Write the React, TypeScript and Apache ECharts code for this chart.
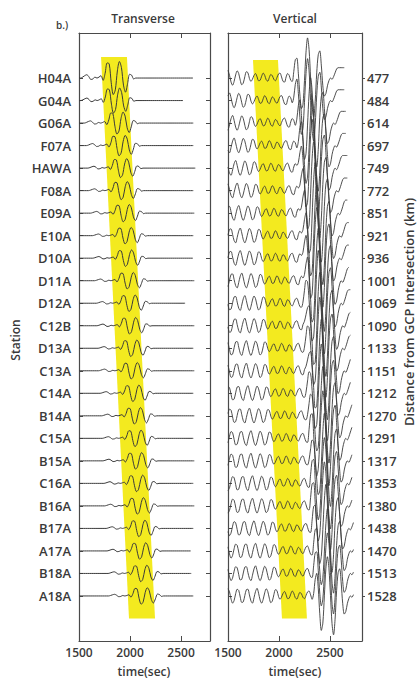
import React, { useEffect, useRef } from "react";
import * as echarts from "echarts";

// ---- Data ----
const stations = [
  "H04A", "G04A", "G06A", "F07A", "HAWA", "F08A", "E09A", "E10A", "D10A", "D11A", "D12A", "C12B",
  "D13A", "C13A", "C14A", "B14A", "C15A", "B15A", "C16A", "B16A", "B17A", "A17A", "B18A", "A18A",
];
const distancesKm = [
  477, 484, 614, 697, 749, 772, 851, 921, 936, 1001, 1069, 1090,
  1133, 1151, 1212, 1270, 1291, 1317, 1353, 1380, 1438, 1470, 1513, 1528,
];
// Love-wave onset per station (sec)
const loveOnset = [
  1716, 1718, 1752, 1773, 1787, 1793, 1813, 1831, 1835, 1852, 1870, 1875,
  1887, 1891, 1907, 1922, 1928, 1934, 1944, 1951, 1966, 1974, 1985, 1989,
];
const transverseAmp = [
  2.1, 1.6, 1.4, 1.3, 1.2, 1.15, 1.1, 1.05, 1.05, 1.05, 1.05, 1.05,
  1.05, 1.05, 1.05, 1.05, 1.05, 1.05, 1.05, 1.05, 1.05, 1.05, 1.05, 1.05,
];
const transverseEnd = [
  2620, 2520, 2620, 2620, 2640, 2620, 2630, 2620, 2620, 2630, 2540, 2630,
  2620, 2630, 2620, 2630, 2620, 2630, 2620, 2630, 2620, 2600, 2600, 2620,
];
// transverse wavelet, 20 s samples, index 10 = onset (rows, + = up)
const transverseWavelet = [
  0, 0.02, 0.05, 0.07, 0.03, -0.03, -0.02, 0.02, 0.0, 0.02, 0.05, -0.05, 0.1, 0.32,
  0.3, -0.1, -0.35, -0.25, 0.15, 0.35, 0.22, -0.15, -0.3, -0.12, 0.08, 0.06, -0.02, 0,
];
// vertical background wiggles, 15 s samples, index 0 = onset - 600 s
const verticalNoise = [
  0.10, 0.30, 0.22, -0.12, -0.30, -0.15, 0.15, 0.32, 0.18, -0.14,
  -0.32, -0.20, 0.10, 0.30, 0.25, -0.05, -0.29, -0.26, 0.02, 0.28,
  0.30, 0.05, -0.22, -0.32, -0.08, 0.20, 0.34, 0.12, -0.18, -0.32,
  -0.15, 0.14, 0.32, 0.20, -0.10, -0.30, -0.22, 0.06, 0.28, 0.24,
  -0.02, -0.15, -0.05, 0.12, 0.20, 0.05, -0.12, -0.10, 0.08, 0.22,
  0.12, -0.08, -0.14, 0.02, 0.16, 0.10, -0.06, -0.12, 0.02, 0.18,
  0.22, 0.05, -0.15, -0.18, 0.05, 0.20, 0.12, -0.10, -0.15, 0.0,
  0.12, 0.08, -0.04, -0.06, 0.02, 0.04, 0.0, 0.0, 0.0, 0.0,
];
// Rayleigh arrival per station (sec)
const rayleighArrival = [
  2130, 2131, 2156, 2172, 2182, 2186, 2201, 2214, 2217, 2230, 2242, 2246,
  2255, 2258, 2270, 2281, 2285, 2290, 2296, 2302, 2313, 2319, 2327, 2330,
];
const rayleighAmp = [
  1.15, 1.2, 1.3, 1.35, 1.4, 1.4, 1.45, 1.45, 1.45, 1.5, 1.5, 1.5,
  1.45, 1.45, 1.4, 1.4, 1.4, 1.35, 1.35, 1.3, 1.3, 1.25, 1.2, 1.15,
];
const verticalEnd = [
  2650, 2651, 2662, 2669, 2673, 2675, 2682, 2688, 2689, 2695, 2701, 2703,
  2706, 2708, 2713, 2718, 2720, 2722, 2725, 2727, 2732, 2735, 2739, 2740,
];
// Rayleigh packet, 15 s samples from arrival
const rayleighWavelet = [
  0, 0.25, 0.6, 0.7, 0.2, -0.6, -1.2, -1.05, -0.1, 1.0, 1.55, 1.1, 0.0, -1.1, -1.5, -0.9,
  0.2, 0.9, 1.05, 0.5, -0.3, -0.7, -0.6, -0.3, -0.1, 0.0, -0.05, 0.05, 0.2, 0.35, 0.4, 0.4,
];
const xTickLabels = [1500, 2000, 2500];
const xInnerTicks = [2000, 2500];
// yellow windows: [tTopLeft, rowTop, tTopRight, tBottomLeft, rowBottom, tBottomRight]
const bandTransverse = [1716, 1.07, 1970, 1990, 26.0, 2245];
const bandVertical = [1745, 1.2, 1990, 2029, 26.0, 2274];

const rows = stations.map((_, i) => i + 2);
const LINE = "#3a3a3a";
const AXIS = "#4a4a4a";
const FONT = "Open Sans";

function transverseTrace(k: number) {
  const base = loveOnset[k] - 200;
  const end = transverseEnd[k];
  const row = k + 2;
  const pts: number[][] = [[1500, row]];
  for (let j = Math.ceil((1500 - base) / 20); base + 20 * j <= end; j++) {
    const t = base + 20 * j;
    const v = j >= 0 && j < transverseWavelet.length ? transverseWavelet[j] : 0;
    pts.push([t, row - v * transverseAmp[k]]);
  }
  pts.push([end, row]);
  return pts;
}

function verticalTrace(k: number) {
  const nBase = loveOnset[k] - 600;
  const rBase = rayleighArrival[k];
  const end = verticalEnd[k];
  const row = k + 2;
  const pts: number[][] = [];
  const last = rayleighWavelet.length - 1;
  for (let t = 1500; t <= end; t += 15) {
    const ni = Math.round((t - nBase) / 15);
    const ri = Math.round((t - rBase) / 15);
    let v = 0;
    if (ni >= 0 && ni < verticalNoise.length) v += verticalNoise[ni];
    if (ri >= 0 && ri <= last) v += rayleighWavelet[ri] * rayleighAmp[k];
    else if (ri > last) v += rayleighWavelet[last] * rayleighAmp[k];
    pts.push([t, row - v]);
  }
  return pts;
}

function bandSeries(idx: number, band: number[]) {
  return {
    type: "custom",
    xAxisIndex: idx * 2,
    yAxisIndex: idx * 2,
    silent: true,
    z: 1,
    encode: { x: [0, 2, 3, 5], y: [1, 4] },
    data: [band],
    renderItem: (_p: any, api: any) => {
      const p1 = api.coord([api.value(0), api.value(1)]);
      const p2 = api.coord([api.value(2), api.value(1)]);
      const p3 = api.coord([api.value(5), api.value(4)]);
      const p4 = api.coord([api.value(3), api.value(4)]);
      return {
        type: "polygon",
        shape: { points: [p1, p2, p3, p4] },
        style: { fill: "#f3ea1f" },
      };
    },
  };
}

function xAxes(g: number, max: number) {
  return [
    {
      gridIndex: g,
      type: "value",
      min: 1500,
      max,
      position: "bottom",
      axisLine: { show: true, onZero: false, lineStyle: { color: AXIS, width: 1.2 } },
      axisTick: { show: true, inside: true, length: 5, customValues: xInnerTicks, lineStyle: { color: AXIS } },
      axisLabel: {
        customValues: xTickLabels,
        formatter: (v: number) => String(v),
        fontSize: 12,
        color: "#3a3a3a",
        margin: 5,
        fontFamily: FONT,
        fontWeight: 600,
      },
      splitLine: { show: false },
    },
    {
      gridIndex: g,
      type: "value",
      min: 1500,
      max,
      position: "top",
      axisLine: { show: true, onZero: false, lineStyle: { color: AXIS, width: 1.2 } },
      axisTick: { show: true, inside: true, length: 5, customValues: xInnerTicks, lineStyle: { color: AXIS } },
      axisLabel: { show: false },
      splitLine: { show: false },
    },
  ];
}

function yAxes(g: number) {
  const common = {
    gridIndex: g,
    type: "value",
    inverse: true,
    min: 0,
    max: 27,
    splitLine: { show: false },
  };
  return [
    {
      ...common,
      position: "left",
      axisLine: { show: true, onZero: false, lineStyle: { color: AXIS, width: 1.2 } },
      axisTick: { show: true, inside: true, length: 4, customValues: rows, lineStyle: { color: AXIS } },
      axisLabel:
        g === 0
          ? {
              customValues: rows,
              formatter: (v: number) => stations[v - 2] ?? "",
              fontSize: 13,
              color: "#3a3a3a",
              margin: 8,
              fontFamily: FONT,
              fontWeight: 600,
            }
          : { show: false },
    },
    {
      ...common,
      position: "right",
      axisLine: { show: true, onZero: false, lineStyle: { color: AXIS, width: 1.2 } },
      axisTick: { show: true, inside: g === 0, length: g === 0 ? 4 : 3, customValues: rows, lineStyle: { color: AXIS } },
      axisLabel:
        g === 1
          ? {
              customValues: rows,
              formatter: (v: number) => String(distancesKm[v - 2] ?? ""),
              fontSize: 13,
              color: "#3a3a3a",
              margin: 5,
              fontFamily: FONT,
              fontWeight: 600,
            }
          : { show: false },
    },
  ];
}

function text(x: number, y: number, t: string, size: number, rotation = 0) {
  return {
    type: "text",
    x,
    y,
    rotation,
    style: {
      text: t,
      fill: "#3a3a3a",
      font: `600 ${size}px "${FONT}"`,
      textAlign: "center",
      textVerticalAlign: "middle",
    },
  };
}

export default function App() {
  const ref = useRef<HTMLDivElement>(null);
  useEffect(() => {
    if (!ref.current) return;
    const chart = echarts.init(ref.current, undefined, { renderer: "svg" });
    const series: any[] = [bandSeries(0, bandTransverse), bandSeries(1, bandVertical)];
    stations.forEach((name, k) => {
      series.push({
        name: name + " T",
        type: "line",
        xAxisIndex: 0,
        yAxisIndex: 0,
        data: transverseTrace(k),
        showSymbol: false,
        smooth: 0.3,
        z: 3,
        lineStyle: { color: LINE, width: 1 },
      });
      series.push({
        name: name + " Z",
        type: "line",
        xAxisIndex: 2,
        yAxisIndex: 2,
        data: verticalTrace(k),
        showSymbol: false,
        smooth: 0.3,
        z: 3,
        lineStyle: { color: LINE, width: 0.9 },
      });
    });
    chart.setOption({
      animation: false,
      backgroundColor: "#ffffff",
      grid: [
        { left: 79, top: 33, width: 131, height: 608 },
        { left: 228, top: 33, width: 134, height: 608 },
      ],
      xAxis: [...xAxes(0, 2784), ...xAxes(1, 2814)],
      yAxis: [...yAxes(0), ...yAxes(1)],
      series,
      graphic: [
        text(62, 25, "b.)", 10),
        text(143, 18, "Transverse", 12),
        text(295, 18, "Vertical", 12),
        text(15, 340, "Station", 12, Math.PI / 2),
        text(409, 312, "Distance from GCP Intersection (km)", 13, Math.PI / 2),
        text(144, 671, "time(sec)", 12),
        text(295, 671, "time(sec)", 12),
      ],
    });
    return () => chart.dispose();
  }, []);
  return (
    <div
      ref={ref}
      style={{ position: "fixed", left: 0, top: 0, width: 417, height: 680, background: "#fff" }}
    />
  );
}
